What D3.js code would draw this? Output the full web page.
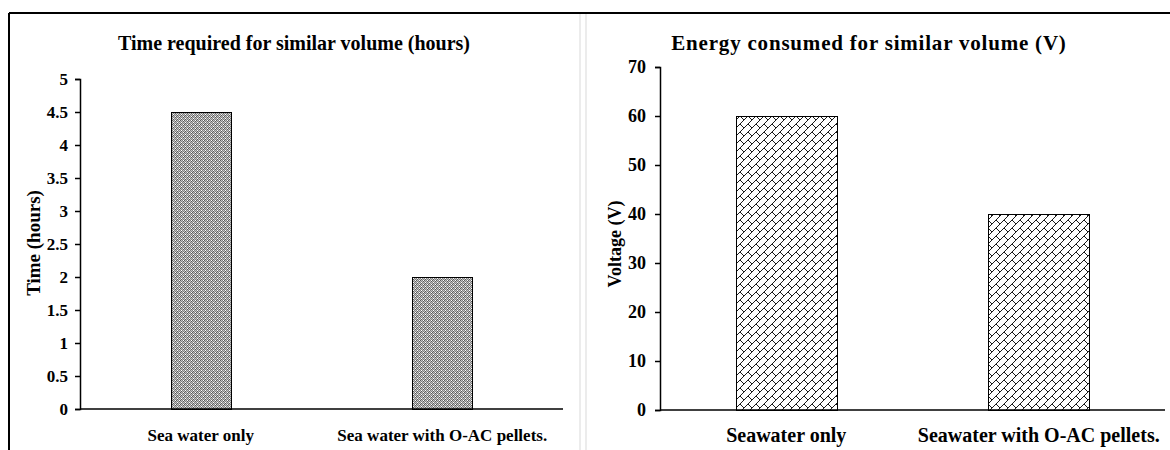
<!DOCTYPE html>
<html>
<head>
<meta charset="utf-8">
<script src="https://cdn.jsdelivr.net/npm/d3@7"></script>
<style>
  body { margin: 0; background: #fff; }
  svg text { font-family: "Times New Roman", "Liberation Serif", serif; font-weight: bold; fill: #000; }
  .axis path, .axis line { stroke: #000; stroke-width: 1.5px; }
</style>
</head>
<body>
<div id="chart"></div>
<script>
var width = 1170,
  height = 450;

// data
var timeCategories = ["Sea water only", "Sea water with O-AC pellets."];
var timeValues = [4.5, 2];
var timeTicks = [0, 0.5, 1, 1.5, 2, 2.5, 3, 3.5, 4, 4.5, 5];

var voltCategories = ["Seawater only", "Seawater with O-AC pellets."];
var voltValues = [60, 40];
var voltTicks = [0, 10, 20, 30, 40, 50, 60, 70];

var svg = d3.select("#chart").append("svg")
  .attr("width", width)
  .attr("height", height);

var defs = svg.append("defs");

// small checker pattern (left chart)
var p1 = defs.append("pattern")
  .attr("id", "checker")
  .attr("patternUnits", "userSpaceOnUse")
  .attr("width", 4).attr("height", 4);
p1.append("rect").attr("width", 4).attr("height", 4).attr("fill", "#c4c4c4");
[[0, 0], [2, 0], [1, 1], [3, 1], [0, 2], [2, 2], [1, 3], [3, 3]].forEach(function (c, i) {
  p1.append("rect").attr("x", c[0]).attr("y", c[1]).attr("width", 1).attr("height", 1)
    .attr("fill", i % 3 == 0 ? "#5a5a5a" : "#7e7e7e");
});
p1.append("rect").attr("x", 1).attr("y", 2).attr("width", 1).attr("height", 1).attr("fill", "#fff");
p1.append("rect").attr("x", 3).attr("y", 0).attr("width", 1).attr("height", 1).attr("fill", "#fff");

// diagonal brick hatch, 8x8 bitmap (right chart)
var brickRows = [0x01, 0x02, 0x04, 0x08, 0x18, 0x24, 0x42, 0x81];
var p2 = defs.append("pattern")
  .attr("id", "brick")
  .attr("patternUnits", "userSpaceOnUse")
  .attr("width", 8).attr("height", 8);
p2.append("rect").attr("width", 8).attr("height", 8).attr("fill", "#fff");
brickRows.forEach(function (bits, row) {
  for (var col = 0; col < 8; col++) {
    if (bits & (0x80 >> col)) {
      p2.append("rect").attr("x", col).attr("y", row).attr("width", 1).attr("height", 1)
        .attr("fill", "#1a1a1a");
    }
  }
});

// frame
svg.append("line").attr("x1", 9).attr("x2", width).attr("y1", 13).attr("y2", 13)
  .attr("stroke", "#000").attr("stroke-width", 2);
svg.append("line").attr("x1", 9).attr("x2", 9).attr("y1", 13).attr("y2", height)
  .attr("stroke", "#000").attr("stroke-width", 2);
[580, 586].forEach(function (x) {
  svg.append("line").attr("x1", x).attr("x2", x).attr("y1", 14).attr("y2", height)
    .attr("stroke", "#d9d9d9").attr("stroke-width", 1);
});

function drawChart(opt) {
  var g = svg.append("g");

  var x = d3.scaleBand()
    .domain(opt.categories)
    .range([opt.left, opt.right])
    .padding(0);

  var y = d3.scaleLinear()
    .domain([0, opt.max])
    .range([opt.bottom, opt.top]);

  var bw = x.bandwidth() * opt.barRatio;

  g.selectAll(".bar").data(opt.values)
    .enter().append("rect")
    .attr("class", "bar")
    .attr("x", function (d, i) { return Math.round(x(opt.categories[i]) + x.bandwidth() / 2 - bw / 2) + 0.5; })
    .attr("y", function (d) { return Math.round(y(d)) + 0.5; })
    .attr("width", Math.round(bw))
    .attr("height", function (d) { return Math.round(y(0)) - Math.round(y(d)); })
    .attr("fill", "url(#" + opt.pattern + ")")
    .attr("stroke", "#000")
    .attr("stroke-width", 1);

  var yAxis = g.append("g")
    .attr("class", "axis")
    .attr("transform", "translate(" + opt.left + ",0)")
    .call(d3.axisLeft(y).tickValues(opt.ticks).tickFormat(d3.format("")).tickSizeOuter(0).tickSize(5).tickPadding(opt.yPad));
  yAxis.selectAll("text").style("font-size", opt.yFont);

  var xAxis = g.append("g")
    .attr("class", "axis")
    .attr("transform", "translate(0," + opt.bottom + ")")
    .call(d3.axisBottom(x).tickSize(0).tickSizeOuter(0).tickPadding(opt.xPad));
  xAxis.select(".domain").attr("d", "M" + opt.left + ",0H" + opt.right);
  xAxis.selectAll("text").style("font-size", opt.xFont);

  g.append("text")
    .attr("x", opt.titleX)
    .attr("y", 50)
    .attr("text-anchor", "middle")
    .style("font-size", opt.titleFont)
    .style("letter-spacing", opt.titleSpacing)
    .text(opt.title);

  g.append("text")
    .attr("transform", "translate(" + opt.yLabelX + "," + opt.yLabelY + ")rotate(-90)")
    .attr("text-anchor", "middle")
    .style("font-size", opt.yLabelFont)
    .text(opt.yLabel);
}

drawChart({
  categories: timeCategories, values: timeValues, ticks: timeTicks, max: 5,
  left: 80, right: 563, top: 79, bottom: 409,
  barRatio: 0.25, pattern: "checker",
  yPad: 7, yFont: "17px",
  xPad: 20, xFont: "17px",
  title: "Time required for similar volume (hours)", titleX: 294, titleFont: "20px", titleSpacing: "0px",
  yLabel: "Time (hours)", yLabelX: 40, yLabelY: 243, yLabelFont: "19px"
});

drawChart({
  categories: voltCategories, values: voltValues, ticks: voltTicks, max: 70,
  left: 660, right: 1165, top: 67, bottom: 410,
  barRatio: 0.4, pattern: "brick",
  yPad: 9, yFont: "18px",
  xPad: 18, xFont: "20px",
  title: "Energy consumed for similar volume (V)", titleX: 869, titleFont: "21px", titleSpacing: "0.8px",
  yLabel: "Voltage (V)", yLabelX: 621, yLabelY: 244, yLabelFont: "18px"
});
</script>
</body>
</html>
